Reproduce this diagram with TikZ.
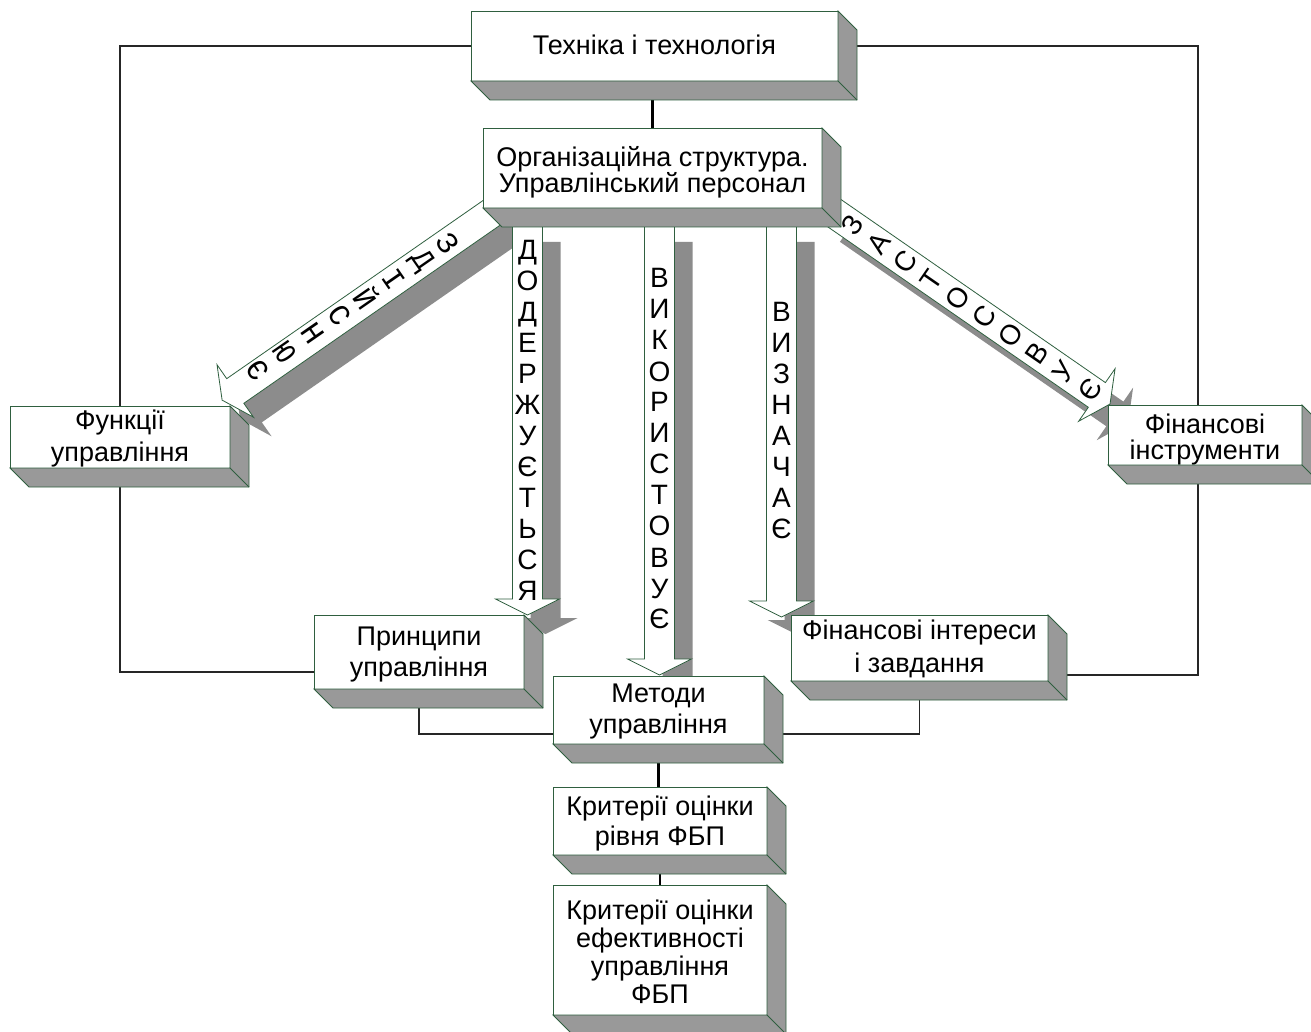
\documentclass[tikz,border=0pt]{standalone}
\usepackage{fontspec}
\setmainfont{Liberation Sans}
\newfontfamily\monofont{Liberation Mono}
\usetikzlibrary{calc}

\definecolor{edgegreen}{HTML}{2F5F3F}
\definecolor{sidegray}{HTML}{999999}
\definecolor{shadegray}{HTML}{8C8C8C}

\pgfdeclarelayer{paper}
\pgfdeclarelayer{background}
\pgfsetlayers{paper,background,main}

\tikzset{
  box3d/.style={draw=edgegreen, line width=0.8pt, fill=white, inner sep=0pt,
    outer sep=0pt, align=center},
  sideface/.style={fill=sidegray, draw=edgegreen, line width=0.8pt},
  conn/.style={draw=black!85, line width=1.1pt},
  trunk/.style={draw=black, line width=2.2pt},
  arrowbody/.style={fill=white, draw=edgegreen, line width=0.8pt},
  arrowshade/.style={fill=shadegray},
  stacked/.style={align=center, inner sep=0pt, font=\fontsize{28}{31}\selectfont},
  letter/.style={inner sep=0pt},
}

% front face with text, plus the extruded right and bottom faces
% #1 name, #2 centre, #3 width, #4 height, #5 text height, #6 line skip, #7 text
\newcommand\slab[7]{%
  \node[box3d, minimum width=#3pt, minimum height=#4pt, text height=#5pt,
        text depth=0pt, font=\fontsize{27}{#6}\selectfont] (#1) at (#2) {#7};
  \filldraw[sideface] (#1.north east) -- ++(19,19) -- ($(#1.south east)+(19,19)$)
    -- ($(#1.south west)+(19,19)$) -- (#1.south west) -- (#1.south east) -- cycle;
  \draw[sideface, fill=none] (#1.south east) -- ++(19,19);}

% block arrow along the local x axis: #1 style, #2 tail, #3 angle, #4 length
\newcommand\blockarrow[4]{%
  \path[#1, shift={#2}, rotate=#3] (0,-15) -- ({#4-16},-15) -- ({#4-16},-32)
    -- (#4,0) -- ({#4-16},32) -- ({#4-16},15) -- (0,15) -- cycle;}

\begin{document}
\begin{tikzpicture}[x=1pt, y=-1pt]
\begin{pgfonlayer}{paper}
\fill[white] (0,0) rectangle (1311,1032);
\end{pgfonlayer}
\useasboundingbox (0,0) rectangle (1311,1032);

% ---------- arrow shadows ----------
\blockarrow{arrowshade, shift={(18,19)}}{(527.5,223)}{-90}{392}
\blockarrow{arrowshade, shift={(18,19)}}{(659.5,223)}{-90}{452}
\blockarrow{arrowshade, shift={(18,19)}}{(781.5,223)}{-90}{394}
\blockarrow{arrowshade, shift={(18,19)}}{(500,207)}{-145.2}{338.4}
\blockarrow{arrowshade, shift={(18,19)}}{(830.5,210.5)}{-34.7}{340}

% ---------- arrows ----------
\blockarrow{arrowbody}{(527.5,223)}{-90}{392}
\blockarrow{arrowbody}{(659.5,223)}{-90}{452}
\blockarrow{arrowbody}{(781.5,223)}{-90}{394}
\blockarrow{arrowbody}{(500,207)}{-145.2}{338.4}
\blockarrow{arrowbody}{(830.5,210.5)}{-34.7}{340}

% ---------- words written along the arrows ----------
\node[stacked] (wordA) at (527.5,420) {Д\\О\\Д\\Е\\Р\\Ж\\У\\Є\\Т\\Ь\\С\\Я};
\node[stacked] (wordB) at (659.5,449) {В\\И\\К\\О\\Р\\И\\С\\Т\\О\\В\\У\\Є};
\node[stacked] (wordC) at (781.5,420.5) {В\\И\\З\\Н\\А\\Ч\\А\\Є};
\foreach \ch [count=\k from 0] in {З,Д,І,Й,С,Н,Ю,Є}
  \node[letter, font=\monofont\fontsize{30}{30}\selectfont, rotate=-55.2]
    (wl\k) at ({448-27.14*\k},{243+18.14*\k}) {\ch};
\foreach \ch [count=\k from 0] in {З,А,С,Т,О,С,О,В,У,Є}
  \node[letter, font=\fontsize{28}{28}\selectfont, rotate=55.3]
    (wr\k) at ({852+26.44*\k},{225+18.33*\k}) {\ch};

% ---------- boxes ----------
\slab{tech}{654.5,46}{367}{70}{18}{27}{Техніка і технологія}
\slab{org}{652.5,168}{339}{80}{50}{25}{Організаційна структура.\\Управлінський персонал}
\slab{func}{120,437}{220}{62}{48}{32}{Функції\\управління}
\slab{fini}{1205,435}{194}{60}{48}{26}{Фінансові\\інструменти}
\slab{princ}{419,652}{210}{74}{48}{31}{Принципи\\управління}
\slab{meth}{658.5,710}{211}{68}{46}{31}{Методи\\управління}
\slab{fint}{919.5,648}{257}{66}{48}{33}{Фінансові інтереси\\і завдання}
\slab{crit1}{660,821}{214}{68}{48}{30}{Критерії оцінки\\рівня ФБП}
\slab{crit2}{660,950}{214}{130}{106}{28}{Критерії оцінки\\ефективності\\управління\\ФБП}

% ---------- connectors, kept behind the boxes ----------
\begin{pgfonlayer}{background}
\draw[conn] (tech.west) -| (func.north);
\draw[conn] (tech.east) -| ([xshift=-7pt]fini.north);
\draw[conn] (func.south) |- ($(princ.west)+(0,20)$);
\draw[conn] ([xshift=-7pt]fini.south) |- ($(fint.east)+(0,27)$);
\draw[conn] (princ.south) |- ($(meth.west)+(0,24)$);
\draw[conn] (fint.south) |- ($(meth.east)+(0,24)$);
\draw[trunk] (org.north) -- (org.north |- tech.south);
\draw[trunk] (meth.south) -- (meth.south |- crit1.north);
\draw[trunk] (crit1.south) -- (crit1.south |- crit2.north);
\end{pgfonlayer}
\end{tikzpicture}
\end{document}
